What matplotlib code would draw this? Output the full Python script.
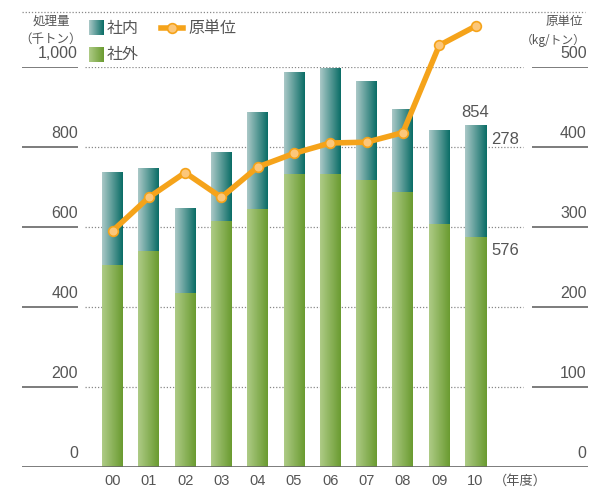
import numpy as np
import matplotlib
matplotlib.use("Agg")
import matplotlib.pyplot as plt
from matplotlib.colors import LinearSegmentedColormap

plt.rcParams['font.family'] = ['Noto Sans CJK JP', 'DejaVu Sans']
NUM_FONT = ['Liberation Sans', 'DejaVu Sans']

# data
years = ["00", "01", "02", "03", "04", "05", "06", "07", "08", "09", "10"]
outside = [505, 540, 435, 614, 644, 732, 732, 718, 688, 607, 576]
inside = [232, 207, 212, 171, 242, 253, 263, 247, 207, 233, 278]
unit = [295, 337, 368, 337, 375, 392, 405, 406, 418, 527, 551]
left_ticks = [0, 200, 400, 600, 800, 1000]
left_labels = ["0", "200", "400", "600", "800", "1,000"]
right_ticks = [0, 100, 200, 300, 400, 500]

text_col = "#555555"
line_col = "#F5A31A"

# pixel layout helpers (bar pitch 36.3px, first bar centre at 112.5px)
W, H = 589, 487
x0 = (22 - 112.5) / 36.3
x1 = (588 - 112.5) / 36.3

fig = plt.figure(figsize=(W / 100, H / 100), dpi=100)
ax = fig.add_axes([22 / W, 20 / H, 566 / W, 400 / H])
ax.set_xlim(x0, x1)
ax.set_ylim(0, 1000)
ax.axis("off")

ax2 = ax.twinx()
ax2.set_ylim(0, 500)
ax2.axis("off")

xs = np.arange(len(years))
bw = 21 / 36.3

cm_in = LinearSegmentedColormap.from_list("in", ["#AAC8C7", "#0A6D66"])
cm_out = LinearSegmentedColormap.from_list("out", ["#AECB86", "#6A9B30"])
grad = np.linspace(0, 1, 64).reshape(1, -1)

bars_out = ax.bar(xs, outside, width=bw, color="none", zorder=2)
bars_in = ax.bar(xs, inside, bottom=outside, width=bw, color="none", zorder=2)
for bars, cm in ((bars_out, cm_out), (bars_in, cm_in)):
    for p in bars:
        ax.imshow(grad, cmap=cm, aspect="auto", zorder=2,
                  extent=[p.get_x(), p.get_x() + p.get_width(),
                          p.get_y(), p.get_y() + p.get_height()])
ax.set_xlim(x0, x1)
ax.set_ylim(0, 1000)

# grid
g0 = (85 - 112.5) / 36.3
g1 = (523 - 112.5) / 36.3
ax.hlines(left_ticks[1:], g0, g1, colors="#888888", linestyles=(0, (1, 1.5)), lw=0.9, zorder=1)
ax.hlines(left_ticks[1:], x0, (78 - 112.5) / 36.3, colors="#666666", lw=1.2, zorder=1)
ax.hlines(left_ticks[1:], (532 - 112.5) / 36.3, x1, colors="#666666", lw=1.2, zorder=1)
ax.hlines(0, x0, x1, colors="#666666", lw=1.2, zorder=3)
ax.hlines(1137.5, x0, (585 - 112.5) / 36.3, colors="#888888", linestyles=(0, (1, 1.5)),
          lw=0.9, clip_on=False)

for v, lab in zip(left_ticks, left_labels):
    ax.annotate(lab, (((78 - 112.5) / 36.3), v), xytext=(0, 4), textcoords="offset points",
                ha="right", va="bottom", fontsize=11.5, color=text_col, family=NUM_FONT)
for v in right_ticks:
    ax2.annotate(str(v), (x1, v), xytext=(-1, 4), textcoords="offset points",
                 ha="right", va="bottom", fontsize=11.5, color=text_col, family=NUM_FONT)

for x, y in zip(xs, years):
    ax.annotate(y, (x, 0), xytext=(0, -13), textcoords="offset points",
                ha="center", va="baseline", fontsize=10.5, color=text_col, family=NUM_FONT)
ax.annotate("（年度）", ((520 - 112.5) / 36.3, 0), xytext=(0, -10), textcoords="offset points",
            ha="center", va="center", fontsize=9.5, color=text_col)

# line
ax2.plot(xs, unit, color=line_col, lw=4, zorder=4, solid_capstyle="round",
         marker="o", ms=7, mfc="#FCC77A", mec=line_col, mew=1.2, clip_on=False)

# value labels
n = len(years) - 1
ax.annotate(str(outside[n] + inside[n]), (xs[n], outside[n] + inside[n]), xytext=(0, 4),
            textcoords="offset points", ha="center", va="bottom", fontsize=12,
            color=text_col, family=NUM_FONT)
ax.annotate(str(inside[n]), (xs[n] + bw / 2, outside[n] + inside[n]), xytext=(4, -10),
            textcoords="offset points", ha="left", va="center", fontsize=12,
            color=text_col, family=NUM_FONT)
ax.annotate(str(outside[n]), (xs[n] + bw / 2, outside[n]), xytext=(4, -10),
            textcoords="offset points", ha="left", va="center", fontsize=12,
            color=text_col, family=NUM_FONT)
ax2.annotate(str(unit[n]), (xs[n], unit[n]), xytext=(0, -13), textcoords="offset points",
             ha="center", va="center", fontsize=12, color=text_col, family=NUM_FONT)

# axis titles
fig.text(51 / W, 1 - 21 / H, "処理量", ha="center", va="center", fontsize=9, color=text_col)
fig.text(51 / W, 1 - 39 / H, "（千トン）", ha="center", va="center", fontsize=9, color=text_col)
fig.text(564 / W, 1 - 22 / H, "原単位", ha="center", va="center", fontsize=9, color=text_col)
fig.text(586 / W, 1 - 40 / H, "（kg/トン）", ha="right", va="center", fontsize=8.5,
         color=text_col)

# legend (drawn by hand)
lax = fig.add_axes([0, 0, 1, 1], zorder=5)
lax.set_xlim(0, W)
lax.set_ylim(H, 0)
lax.axis("off")
lax.imshow(grad, cmap=cm_in, aspect="auto", extent=[89, 104, 35, 20])
lax.imshow(grad, cmap=cm_out, aspect="auto", extent=[89, 104, 62, 47])
lax.set_xlim(0, W)
lax.set_ylim(H, 0)
lax.text(107, 28, "社内", ha="left", va="center", fontsize=11.5, color=text_col)
lax.text(107, 55, "社外", ha="left", va="center", fontsize=11.5, color=text_col)
lax.plot([161, 183], [28, 28], color=line_col, lw=4)
lax.plot([172], [28], marker="o", ms=7, mfc="#FCC77A", mec=line_col, mew=1.2)
lax.text(188, 28, "原単位", ha="left", va="center", fontsize=11.5, color=text_col)

fig.savefig("out.png", dpi=100)
